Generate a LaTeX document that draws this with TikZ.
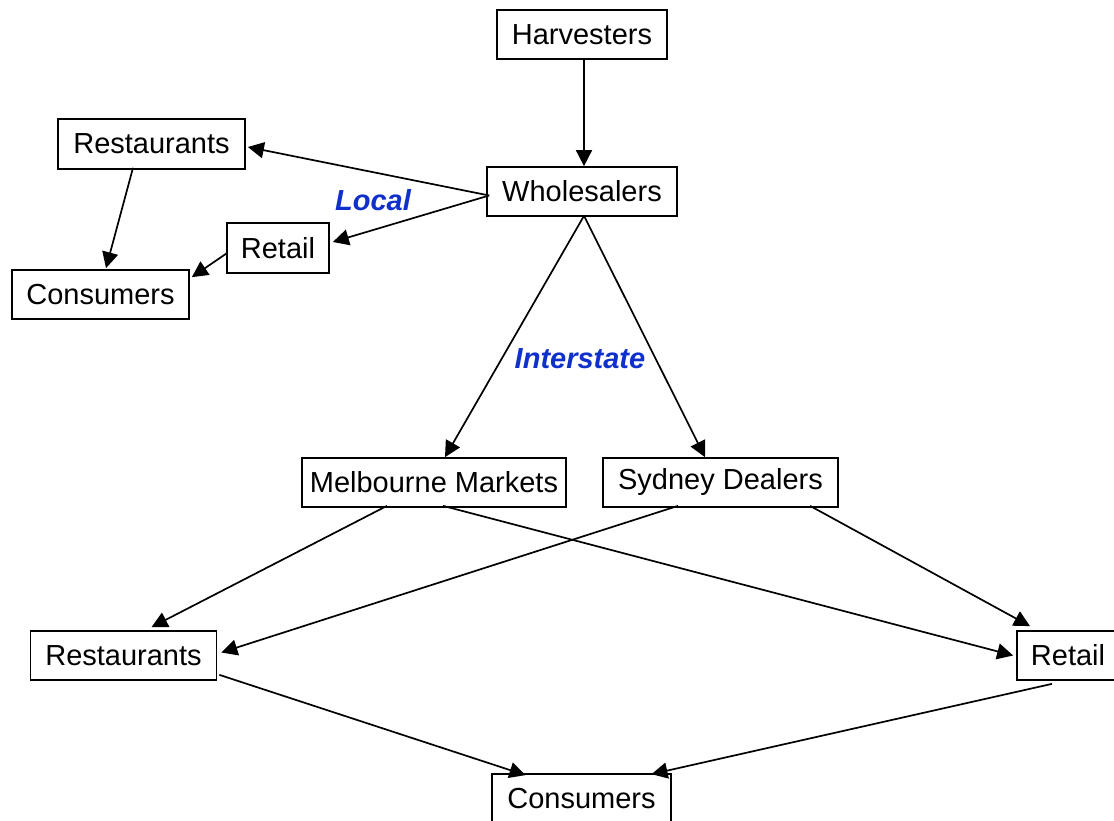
\documentclass[tikz,border=0pt]{standalone}
\usepackage{fontspec}
\setmainfont{Liberation Sans}
\usetikzlibrary{arrows.meta,calc}
\definecolor{labelblue}{RGB}{16,48,204}
\begin{document}
\begin{tikzpicture}[x=1pt,y=-1pt,
  box/.style={draw,line width=1.7pt,inner sep=0pt,minimum height=49pt,font=\fontsize{29}{33}\selectfont},
  flow/.style={line width=1.7pt,-{Triangle[length=16pt,width=16pt]}},
  lbl/.style={font=\fontsize{29}{33}\selectfont\bfseries\itshape,text=labelblue}]
\useasboundingbox[fill=white] (0,0) rectangle (1114,821);
% nodes
\node[box,minimum width=170pt] (harv) at (582,34.5) {Harvesters};
\node[box,minimum width=190pt] (who) at (582,191.5) {Wholesalers};
\node[box,minimum width=187pt,minimum height=50pt] (rest1) at (151.5,144) {Restaurants};
\node[box,minimum width=102pt,minimum height=50pt] (ret1) at (278,248) {Retail};
\node[box,minimum width=177pt] (con1) at (100.5,294.5) {Consumers};
\node[box,minimum width=264pt] (mel) at (434,482.5) {Melbourne Markets};
\node[box,minimum width=235pt] (syd) at (720.5,482.5) {Sydney Dealers};
\node[box,minimum width=186pt] (rest2) at (123.5,655.5) {Restaurants};
\node[box,minimum width=102pt] (ret2) at (1068,655.5) {Retail};
\node[box,minimum width=179pt] (con2) at (581.5,798.5) {Consumers};
% labels
\node[lbl] (local) at (373,200) {Local};
\node[lbl] (inter) at (580,359) {Interstate};
% connectors
\draw[flow] ($(harv.south)+(2,0)$) -- ($(who.north)+(2,0)$);
\draw[flow] ($(who.west)+(3,4)$) -- ($(rest1.east)+(2,3)$);
\draw[flow] ($(who.west)+(3,4)$) -- ($(ret1.east)+(3,-6)$);
\draw[flow] ($(rest1.south)+(-18.5,-2)$) -- ($(con1.north)+(5.5,-1)$);
\draw[flow] ($(ret1.west)+(1,5)$) -- ($(con1.north east)+(2,8)$);
\draw[flow] ($(who.south)+(2,-1)$) -- ($(mel.north)+(11,0)$);
\draw[flow] ($(who.south)+(2,-1)$) -- ($(syd.north)+(-15.5,0)$);
\draw[flow] ($(mel.south)+(-47,-2)$) -- ($(rest2.north)+(28,-3)$);
\draw[flow] ($(syd.south)+(-42.5,-2)$) -- ($(rest2.east)+(4,-3)$);
\draw[flow] ($(mel.south)+(9,-2)$) -- ($(ret2.west)+(-3,0)$);
\draw[flow] ($(syd.south)+(89.5,-2)$) -- ($(ret2.north)+(-38,-4)$);
\draw[flow] ($(rest2.south east)+(2,-6)$) -- ($(con2.north)+(-56,2)$);
\draw[flow] ($(ret2.south)+(-16,3)$) -- ($(con2.north)+(70,1)$);
\end{tikzpicture}
\end{document}
